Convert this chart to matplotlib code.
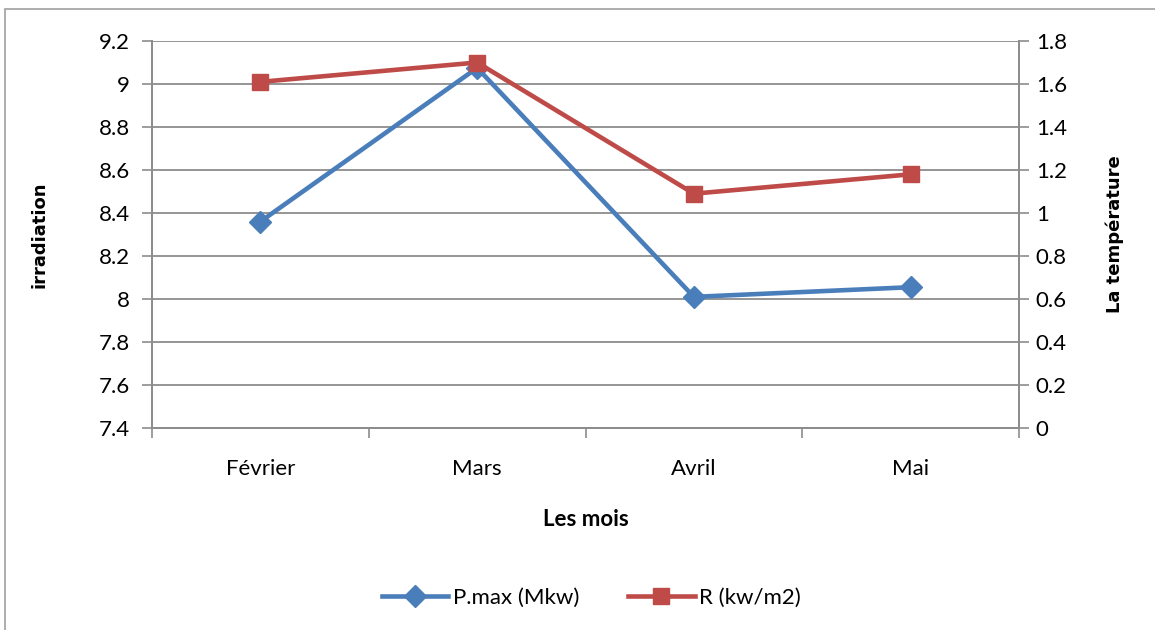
import matplotlib
matplotlib.use("Agg")
import matplotlib.pyplot as plt
from matplotlib.lines import Line2D
from matplotlib.patches import Rectangle
from matplotlib.font_manager import FontProperties

# Data
months = ["Février", "Mars", "Avril", "Mai"]
pmax = [8.36, 9.075, 8.01, 8.055]      # left axis (irradiation)
r_vals = [1.61, 1.70, 1.09, 1.18]      # right axis (La température)
left_ticks = [7.4, 7.6, 7.8, 8.0, 8.2, 8.4, 8.6, 8.8, 9.0, 9.2]
left_labels = ["7.4", "7.6", "7.8", "8", "8.2", "8.4", "8.6", "8.8", "9", "9.2"]
right_ticks = [0, 0.2, 0.4, 0.6, 0.8, 1.0, 1.2, 1.4, 1.6, 1.8]
right_labels = ["0", "0.2", "0.4", "0.6", "0.8", "1", "1.2", "1.4", "1.6", "1.8"]

blue = "#4a7ebb"
red = "#be4b48"
grid_c = "#8c8c8c"

plt.rcParams['font.family'] = ['Lato', 'DejaVu Sans']

fig = plt.figure(figsize=(11.55, 6.3), dpi=100)
fig.patches.append(Rectangle((5 / 1155, -0.1), 1.2, 1 - 9 / 630 + 0.1, transform=fig.transFigure,
                             fill=False, edgecolor="#a0a0a0", linewidth=1.2))

ax = fig.add_axes([0.1316, 0.3206, 0.7507, 0.6143])
ax2 = ax.twinx()

x = list(range(len(months)))
ax.plot(x, pmax, color=blue, linewidth=3.3, marker="D", markersize=11, zorder=3)
ax2.plot(x, r_vals, color=red, linewidth=3.3, marker="s", markersize=11, zorder=3)

ax.set_xlim(-0.5, 3.5)
ax.set_ylim(7.4, 9.2)
ax2.set_ylim(0, 1.8)
ax.set_yticks(left_ticks)
ax.set_yticklabels(left_labels)
ax2.set_yticks(right_ticks)
ax2.set_yticklabels(right_labels)

ax.set_xticks(x)
ax.set_xticklabels(months)
ax.set_xticks([-0.5, 0.5, 1.5, 2.5, 3.5], minor=True)
ax.tick_params(axis="x", which="major", length=0, pad=22, labelsize=16)
ax.tick_params(axis="x", which="minor", length=7, width=1.2, color=grid_c, direction="out")
ax.tick_params(axis="y", length=7, width=1.2, color=grid_c, labelsize=16, pad=9)
ax2.tick_params(axis="y", length=7, width=1.2, color=grid_c, labelsize=16, pad=5)

ax.grid(axis="y", color=grid_c, linewidth=1.3)
ax.set_axisbelow(True)
for a in (ax, ax2):
    a.spines["top"].set_visible(False)
    for s in ("left", "right", "bottom"):
        a.spines[s].set_color(grid_c)
        a.spines[s].set_linewidth(1.3)

side_font = FontProperties(family="DejaVu Sans", weight="bold", size=13)
ax.set_xlabel("Les mois", fontsize=16, fontweight="bold", labelpad=22)
ax.set_ylabel("irradiation", fontproperties=side_font, labelpad=36)
ax2.set_ylabel("La température", fontproperties=side_font, labelpad=28)

handles = [
    Line2D([], [], color=blue, linewidth=3.3, marker="D", markersize=11),
    Line2D([], [], color=red, linewidth=3.3, marker="s", markersize=11),
]
fig.legend(handles, ["P.max (Mkw)", "R (kw/m2)"], loc="center", bbox_to_anchor=(0.512, 0.051),
           ncol=2, frameon=False, fontsize=16, handlelength=3, columnspacing=2.2, handletextpad=0.2)

fig.savefig("out.png", dpi=100)
